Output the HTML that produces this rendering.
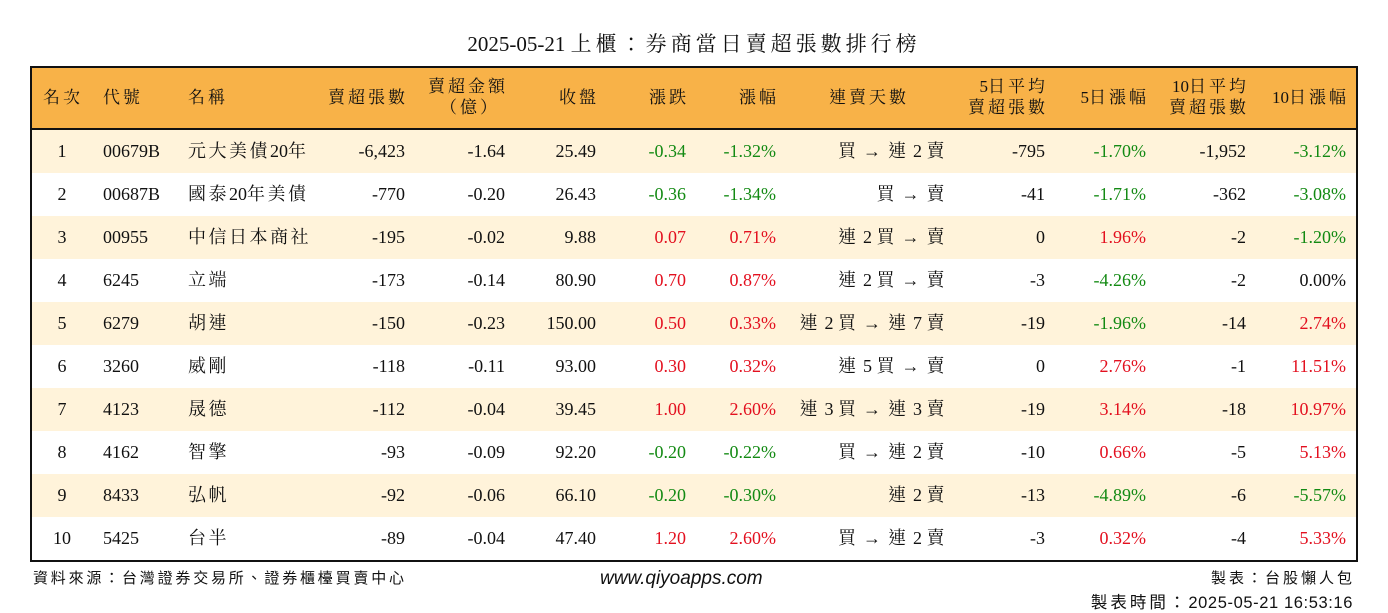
<!DOCTYPE html>
<html><head><meta charset="utf-8"><style>
body{margin:0;width:1388px;height:612px;background:#fff;position:relative;overflow:hidden;font-family:"Liberation Serif","Noto Serif CJK TC","Noto Serif CJK SC",serif;color:#111}
.a{position:absolute;white-space:nowrap}
#title{left:0;width:1388px;top:28px;text-align:center;font-size:21px}
#title span{letter-spacing:4px}
#box{left:30px;top:66px;width:1324px;height:492px;border:2px solid #111}
#hdr{left:32px;top:68px;width:1324px;height:60px;background:#F8B248;border-bottom:2px solid #111}
.r{left:32px;width:1324px;height:43px}
.c{font-size:18px;line-height:43px}
.h{font-size:17px;line-height:19px}
.g{color:#138a13}.red{color:#e3101f}
.f{font-family:"Liberation Sans","Noto Sans CJK TC",sans-serif;font-size:15px}
.cj{letter-spacing:3px}
.c .cj{letter-spacing:2.5px}
</style></head><body>
<div class="a" id="title">2025-05-21 <span>上櫃：券商當日賣超張數排行榜</span></div>
<div class="a" id="hdr"></div>
<div class="a" id="box"></div>
<div class="a f" style="left:33px;top:567px;letter-spacing:2.8px">資料來源：台灣證券交易所、證券櫃檯買賣中心</div>
<div class="a f" style="left:600px;top:568px;font-size:19px;font-style:italic">www.qiyoapps.com</div>
<div class="a f" style="right:33px;top:567px;letter-spacing:3px">製表：台股懶人包</div>
<div class="a f" style="right:35px;top:589px;font-size:16.5px;letter-spacing:0.6px"><span style="letter-spacing:3px">製表時間：</span>2025-05-21 16:53:16</div>
<script>
const ranks=[1,2,3,4,5,6,7,8,9,10];
const codes=["00679B","00687B","00955","6245","6279","3260","4123","4162","8433","5425"];
const names=["元大美債20年","國泰20年美債","中信日本商社","立端","胡連","威剛","晟德","智擎","弘帆","台半"];
const sellVol=["-6,423","-770","-195","-173","-150","-118","-112","-93","-92","-89"];
const sellAmt=["-1.64","-0.20","-0.02","-0.14","-0.23","-0.11","-0.04","-0.09","-0.06","-0.04"];
const close=["25.49","26.43","9.88","80.90","150.00","93.00","39.45","92.20","66.10","47.40"];
const chg=["-0.34","-0.36","0.07","0.70","0.50","0.30","1.00","-0.20","-0.20","1.20"];
const pct=["-1.32%","-1.34%","0.71%","0.87%","0.33%","0.32%","2.60%","-0.22%","-0.30%","2.60%"];
const days=["買 → 連 2 賣","買 → 賣","連 2 買 → 賣","連 2 買 → 賣","連 2 買 → 連 7 賣","連 5 買 → 賣","連 3 買 → 連 3 賣","買 → 連 2 賣","連 2 賣","買 → 連 2 賣"];
const avg5=["-795","-41","0","-3","-19","0","-19","-10","-13","-3"];
const pct5=["-1.70%","-1.71%","1.96%","-4.26%","-1.96%","2.76%","3.14%","0.66%","-4.89%","0.32%"];
const avg10=["-1,952","-362","-2","-2","-14","-1","-18","-5","-6","-4"];
const pct10=["-3.12%","-3.08%","-1.20%","0.00%","2.74%","11.51%","10.97%","5.13%","-5.57%","5.33%"];
const W=1388;
const CJK=/[\u3000-\u9fff\uff00-\uffef]/;
function put(txt,x,align,cls,top,name){
  const d=document.createElement('div');
  d.className='a '+cls;
  txt=String(txt);
  const endsCJK=CJK.test(txt.slice(-1));
  if(CJK.test(txt)){
    d.innerHTML=txt.replace(/([\u3000-\u9fff\uff00-\uffef→]+)/g,'<span class="cj">$1</span>');
  } else d.textContent=txt;
  d.style.top=top+'px';
  if(align==='r'){d.style.right=(W-x-(endsCJK?3:0))+'px';}
  else if(align==='c'){d.style.left=(x-100)+'px';d.style.width='200px';d.style.textAlign='center';}
  else d.style.left=x+'px';
  
  
  document.body.appendChild(d);
  return d;
}
function col(v){const n=parseFloat(v);return n>0?'red':(n<0?'g':'');}
const hdrs=[["名次",43,'l'],["代號",103,'l'],["名稱",188,'l'],["賣超張數",405,'r'],["收盤",596,'r'],["漲跌",686,'r'],["漲幅",776,'r'],["連賣天數",869,'c'],["5日漲幅",1146,'r'],["10日漲幅",1346,'r']];
hdrs.forEach(h=>{put(h[0],h[1],h[2],'h',88,'header-'+h[0]);});
put("賣超金額",505,'r','h',77,'header-amount');
put("（億）",497,'r','h',98,'header-amount-unit');
put("5日平均",1045,'r','h',77,'header-avg5');
put("賣超張數",1045,'r','h',98,'header-avg5-unit');
put("10日平均",1246,'r','h',77,'header-avg10');
put("賣超張數",1246,'r','h',98,'header-avg10-unit');
for(let i=0;i<ranks.length;i++){
  const y=130+i*43;
  const bg=document.createElement('div');
  bg.className='a r';
  bg.style.top=y+'px';
  bg.style.background=i%2===0?'#FFF3DA':'#fff';
  
  
  document.body.insertBefore(bg,document.getElementById('box'));
  const t=y;
  put(ranks[i],62,'c','c',t,'rank');
  put(codes[i],103,'l','c',t,'code');
  put(names[i],188,'l','c',t,'name');
  put(sellVol[i],405,'r','c',t,'sell-volume');
  put(sellAmt[i],505,'r','c',t,'sell-amount');
  put(close[i],596,'r','c',t,'close-price');
  put(chg[i],686,'r','c '+col(chg[i]),t,'change');
  put(pct[i],776,'r','c '+col(pct[i]),t,'change-pct');
  put(days[i],944,'r','c',t,'streak-days');
  put(avg5[i],1045,'r','c',t,'avg5-volume');
  put(pct5[i],1146,'r','c '+col(pct5[i]),t,'pct5');
  put(avg10[i],1246,'r','c',t,'avg10-volume');
  put(pct10[i],1346,'r','c '+col(pct10[i]),t,'pct10');
}
</script>
</body></html>
